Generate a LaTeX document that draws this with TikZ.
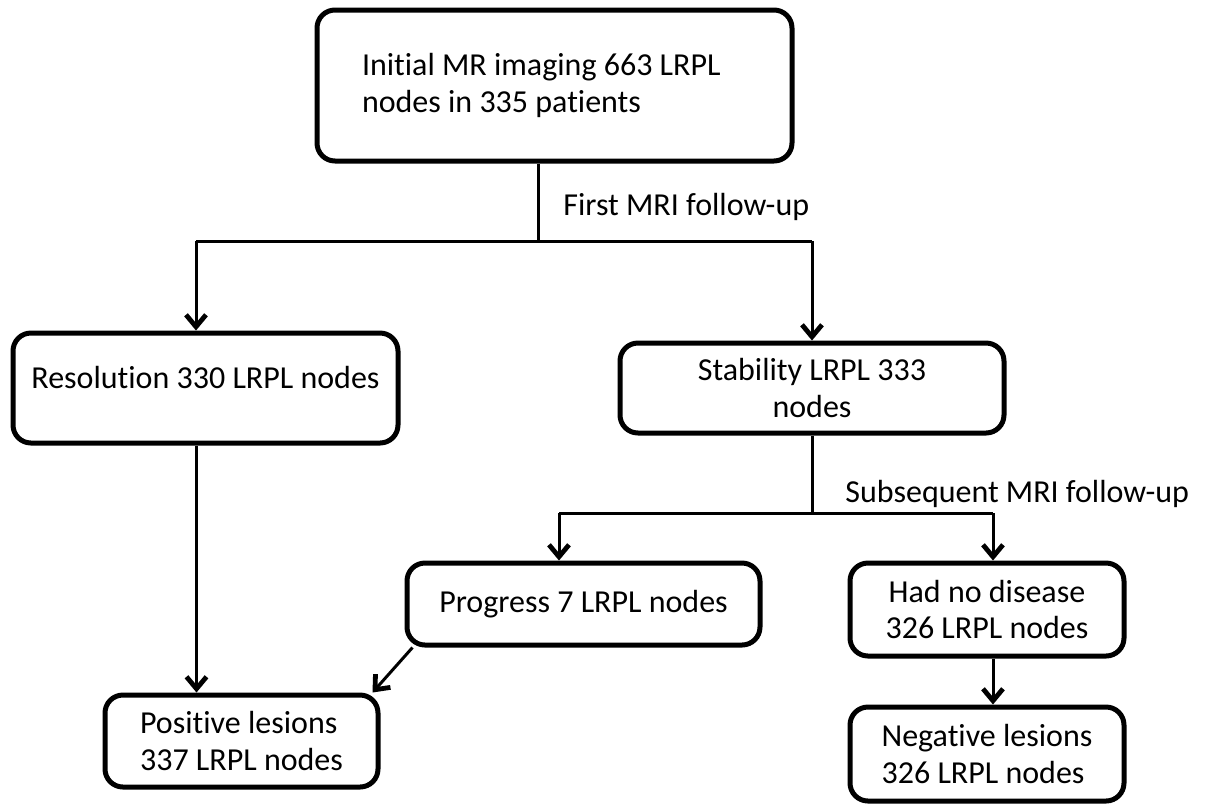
\documentclass[tikz,border=0pt]{standalone}
\usepackage{fontspec}
\setmainfont{Carlito}[Ligatures=NoCommon]
\usetikzlibrary{arrows.meta,positioning}

\begin{document}
\begin{tikzpicture}[x=0.5pt,y=-0.5pt,
        every node/.style={font=\fontsize{16}{18.3}\selectfont},
        box/.style={draw,line width=2.5pt,rounded corners=9pt,align=center,inner sep=0pt},
        link/.style={line width=1.5pt},
        arr/.style={link,-{Straight Barb[length=6pt,width=10pt,line width=2.4pt 0]}}]

    \useasboundingbox (0,0) rectangle (1205,805);

    % boxes
    \node[box,minimum width=237.5pt,minimum height=75.5pt,text width=192.5pt,align=flush left] (init) at (554.5,85.5) {Initial MR imaging 663 LRPL\\nodes in 335 patients};
    \node[box,minimum width=192.5pt,minimum height=55pt,text depth=11pt] (res) at (205.5,388) {Resolution 330 LRPL nodes};
    \node[box,minimum width=192pt,minimum height=45pt] (stab) at (812,388) {Stability LRPL 333\\nodes};
    \node[box,minimum width=176.5pt,minimum height=41pt] (prog) at (583.5,604) {Progress 7 LRPL nodes};
    \node[box,minimum width=137pt,minimum height=46.5pt] (nodis) at (987,609.5) {Had no disease\\326 LRPL nodes};
    \node[box,minimum width=136.5pt,minimum height=46pt,align=left] (pos) at (241.5,741) {Positive lesions\\337 LRPL nodes};
    \node[box,minimum width=137pt,minimum height=47pt,align=left] (neg) at (987,754) {Negative lesions\\326 LRPL nodes};

    % labels
    \node[anchor=base west,inner sep=0pt] (first) at (563,215) {First MRI follow-up};
    \node[anchor=base west,inner sep=0pt] (subs) at (845,502) {Subsequent MRI follow-up};

    % first follow-up
    \coordinate (split1) at (538,241);
    \coordinate (lt) at (196,241);
    \coordinate (rt) at (812,241);
    \draw[link] (init.south -| split1) -- (split1);
    \draw[link] (lt) -- (rt);
    \draw[arr] (lt) -- (lt |- res.north);
    \draw[arr] (rt) -- (stab.north);

    % subsequent follow-up
    \coordinate (split2) at (812,513);
    \coordinate (lb) at (559,513);
    \coordinate (rb) at (993,513);
    \draw[link] (stab.south) -- (split2);
    \draw[link] (lb) -- (rb);
    \draw[arr] (lb) -- (lb |- prog.north);
    \draw[arr] (rb) -- (rb |- nodis.north);

    \draw[arr] ([xshift=-4.5pt]res.south) -- ([xshift=-4.5pt]res.south |- pos.north);
    \draw[arr] ([xshift=4pt]prog.south west) -- ([xshift=-4pt]pos.north east);
    \draw[arr] (nodis.south -| rb) -- (neg.north -| rb);
\end{tikzpicture}
\end{document}
